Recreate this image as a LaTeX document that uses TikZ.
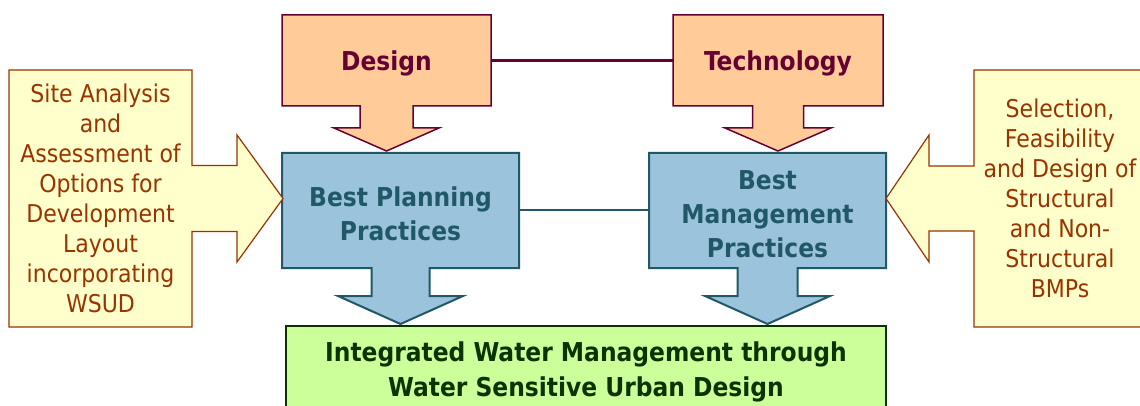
\documentclass[tikz,border=0pt]{standalone}
\usepackage{fontspec}
\setmainfont{DejaVu Sans Condensed}
\usetikzlibrary{positioning,calc,backgrounds}

\definecolor{calloutfill}{HTML}{FFFFCC}
\definecolor{calloutline}{HTML}{993300}
\definecolor{orangefill}{HTML}{FFCC99}
\definecolor{maroon}{HTML}{660033}
\definecolor{bluefill}{HTML}{9BC4DC}
\definecolor{tealline}{HTML}{215868}
\definecolor{greenfill}{HTML}{CCFF99}
\definecolor{darkgreen}{HTML}{0A3300}

% box with a down arrow hanging from its south side
% #1 style, #2 node, #3 half shaft, #4 shaft length, #5 half head, #6 head length
\newcommand{\downshape}[6]{%
  \draw[#1] (#2.north west) -- (#2.north east) -- (#2.south east)
    -- ($(#2.south)+(#3,0)$) -- ($(#2.south)+(#3,#4)$) -- ($(#2.south)+(#5,#4)$)
    -- ($(#2.south)+(0,#4+#6)$)
    -- ($(#2.south)+(-#5,#4)$) -- ($(#2.south)+(-#3,#4)$) -- ($(#2.south)+(-#3,0)$)
    -- (#2.south west) -- cycle;}
% box with an arrow pointing right from its east side
\newcommand{\rightshape}[6]{%
  \draw[#1] (#2.north west) -- (#2.north east)
    -- ($(#2.east)+(0,-#3)$) -- ($(#2.east)+(#4,-#3)$) -- ($(#2.east)+(#4,-#5)$)
    -- ($(#2.east)+(#4+#6,0)$)
    -- ($(#2.east)+(#4,#5)$) -- ($(#2.east)+(#4,#3)$) -- ($(#2.east)+(0,#3)$)
    -- (#2.south east) -- (#2.south west) -- cycle;}
% box with an arrow pointing left from its west side
\newcommand{\leftshape}[6]{%
  \draw[#1] (#2.north east) -- (#2.north west)
    -- ($(#2.west)+(0,-#3)$) -- ($(#2.west)+(-#4,-#3)$) -- ($(#2.west)+(-#4,-#5)$)
    -- ($(#2.west)+(-#4-#6,0)$)
    -- ($(#2.west)+(-#4,#5)$) -- ($(#2.west)+(-#4,#3)$) -- ($(#2.west)+(0,#3)$)
    -- (#2.south west) -- (#2.south east) -- cycle;}

\tikzset{
  boxnode/.style={rectangle, inner sep=0pt, outer sep=0pt, align=center},
  callouttext/.style={boxnode, text=calloutline, font=\fontsize{24.5}{30}\selectfont},
  callout/.style={fill=calloutfill, draw=calloutline, line width=1.2pt, line join=miter},
  inputtext/.style={boxnode, text=maroon, font=\bfseries\fontsize{26}{34}\selectfont},
  input/.style={fill=orangefill, draw=maroon, line width=1.5pt, line join=miter},
  practicetext/.style={boxnode, text=tealline, font=\bfseries\fontsize{26}{34}\selectfont},
  practice/.style={fill=bluefill, draw=tealline, line width=2pt, line join=miter},
  goal/.style={boxnode, fill=greenfill, draw=darkgreen, line width=2pt, text=darkgreen,
    font=\bfseries\fontsize{26}{35}\selectfont}
}

\begin{document}
\begin{tikzpicture}[x=1pt, y=-1pt]
\clip (0,0) rectangle (1140,406);

% inputs on top
\node[boxnode, minimum width=209, minimum height=91,
  label={[inputtext, yshift=-3pt]center:Design}] (design) at (386.5,60.5) {};
\node[boxnode, minimum width=210, minimum height=91,
  label={[inputtext, yshift=-3pt]center:Technology}] (tech) at (778,60.5) {};

% practices in the middle
\node[boxnode, minimum width=237, minimum height=115,
  label={[practicetext, yshift=-3pt]center:{Best Planning\\Practices}}] (plan) at (400.5,210.5) {};
\node[boxnode, minimum width=237, minimum height=115,
  label={[practicetext, yshift=-4pt]center:{Best\\Management\\Practices}}] (mgmt) at (767.5,210.5) {};

% side callouts
\node[callouttext, minimum width=183, minimum height=257] (site) at (100.5,198.5)
  {Site Analysis\\and\\Assessment of\\Options for\\Development\\Layout\\incorporating\\WSUD};
\node[callouttext, minimum width=172, minimum height=257] (select) at (1060,198.5)
  {Selection,\\Feasibility\\and Design of\\Structural\\and Non-\\Structural\\BMPs};

% outcome
\node[goal, minimum width=600, minimum height=92] (iwm) at (586,372)
  {Integrated Water Management through\\Water Sensitive Urban Design};

\begin{scope}[on background layer]
  \fill[white] (0,0) rectangle (1140,406);
  \downshape{input}{design}{26.5}{22}{52.5}{23}
  \downshape{input}{tech}{25.5}{22}{53}{23}
  \downshape{practice}{plan}{29}{28}{62.5}{28}
  \downshape{practice}{mgmt}{30}{28}{62.5}{28}
  \rightshape{callout}{site}{33}{45}{63.5}{46}
  \leftshape{callout}{select}{32.5}{45}{63.5}{43}
\end{scope}

\draw[maroon, line width=2.5pt] (design.east) -- (tech.west);
\draw[tealline, line width=2pt] (plan.east) -- (mgmt.west);

\end{tikzpicture}
\end{document}
